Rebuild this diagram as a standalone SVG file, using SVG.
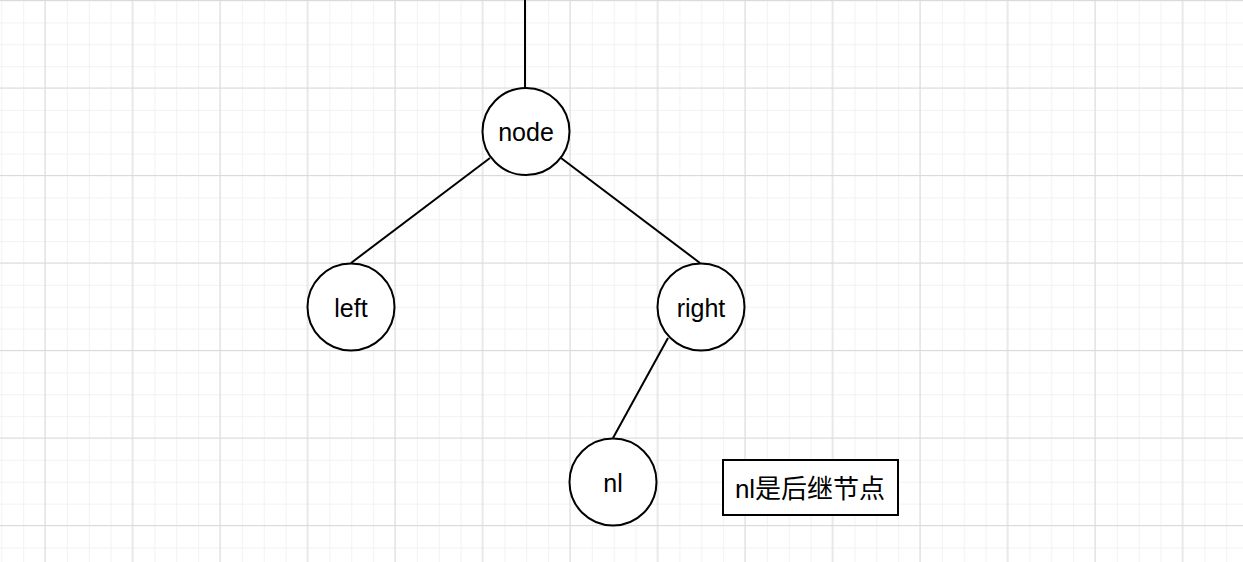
<svg xmlns="http://www.w3.org/2000/svg" width="1243" height="562" viewBox="0 0 1243 562">
<defs>
<pattern id="minor" x="1.25" y="0.5" width="21.875" height="21.875" patternUnits="userSpaceOnUse">
<path d="M0 0.5H21.875M0.5 0V21.875" fill="none" stroke="#f2f2f2" stroke-width="1"/>
</pattern>
<pattern id="major" x="1.25" y="0" width="87.5" height="87.5" patternUnits="userSpaceOnUse">
<path d="M0 0.5H87.5M43.75 0V87.5" fill="none" stroke="#dadada" stroke-width="1"/>
</pattern>
<style>
.n{fill:#fff;stroke:#000;stroke-width:2}
.t{font-family:"Liberation Sans",Arial,"Noto Sans CJK SC",sans-serif;font-size:25px;fill:#000;text-anchor:middle;dominant-baseline:central}
.e{stroke:#000;stroke-width:2;fill:none}
</style>
</defs>
<rect width="1243" height="562" fill="#fff"/>
<rect width="1243" height="562" fill="url(#minor)"/>
<rect width="1243" height="562" fill="url(#major)"/>
<g id="connectors">
<path class="e" d="M525 0V88"/>
<path class="e" d="M490 158L351 263"/>
<path class="e" d="M561 158L700 263"/>
<path class="e" d="M668 338L613 438"/>
</g>
<g id="node"><circle class="n" cx="526" cy="131.5" r="43.5"/><text class="t" x="526" y="132">node</text></g>
<g id="left"><circle class="n" cx="351" cy="307" r="43.5"/><text class="t" x="351" y="308">left</text></g>
<g id="right"><circle class="n" cx="701" cy="307" r="43.5"/><text class="t" x="701" y="308">right</text></g>
<g id="nl"><circle class="n" cx="613" cy="482" r="43.5"/><text class="t" x="613" y="483">nl</text></g>
<g id="label"><rect class="n" x="723" y="460" width="175" height="55"/><text class="t" x="810" y="489" style="font-size:26px">nl是后继节点</text></g>
</svg>
